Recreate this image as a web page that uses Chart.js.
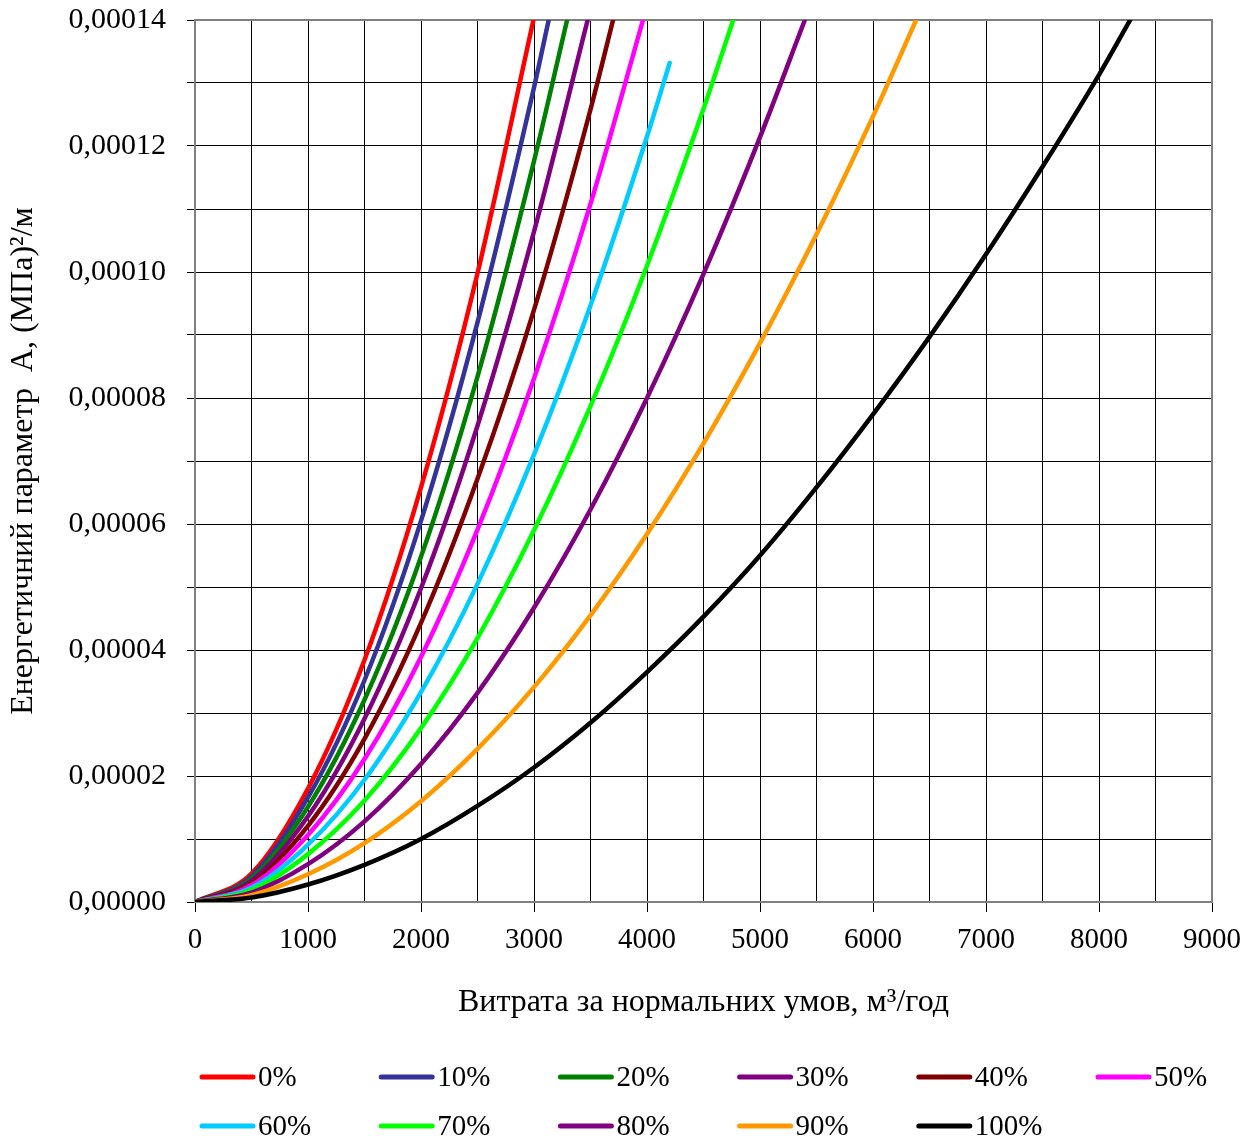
<!DOCTYPE html>
<html lang="uk">
<head>
<meta charset="utf-8">
<title>Енергетичний параметр A</title>
<script src="https://cdn.jsdelivr.net/npm/chart.js@4.4.1/dist/chart.umd.min.js"></script>
<style>
  html, body { margin: 0; padding: 0; background: #fff; }
  #wrap { width: 1258px; height: 1139px; }
</style>
</head>
<body>
<div id="wrap"><canvas id="chart" width="1258" height="1139"></canvas></div>
<script>
// Flow under normal conditions, m3/h (common grid for every curve)
const FLOW = [0, 500, 1000, 1500, 2000, 2500, 3000, 3500, 4000, 4500, 5000, 5500, 6000, 6500, 7000, 7500, 8000];

const SERIES_LABELS = ['0%', '10%', '20%', '30%', '40%', '50%', '60%', '70%', '80%', '90%', '100%'];
const SERIES_COLORS = ['#ff0000', '#333399', '#008000', '#800080', '#800000', '#ff00ff',
                       '#00ccff', '#00ff00', '#800080', '#ff9900', '#000000'];

// Energy parameter A, (MPa)^2/m, on the FLOW grid
const A_0   = [0, 4.5e-6, 1.80e-5, 3.84e-5, 6.58e-5, 9.98e-5];
const A_10  = [0, 4.1e-6, 1.66e-5, 3.52e-5, 6.05e-5, 9.20e-5, 1.293e-4];
const A_20  = [0, 3.75e-6, 1.51e-5, 3.21e-5, 5.48e-5, 8.34e-5, 1.176e-4];
const A_30  = [0, 3.4e-6, 1.36e-5, 2.91e-5, 4.98e-5, 7.56e-5, 1.064e-4];
const A_40  = [0, 3.0e-6, 1.21e-5, 2.59e-5, 4.43e-5, 6.72e-5, 9.40e-5, 1.258e-4];
const A_50  = [0, 2.65e-6, 1.065e-5, 2.27e-5, 3.89e-5, 5.91e-5, 8.31e-5, 1.108e-4];
const A_60  = [0, 2.25e-6, 9.1e-6, 1.94e-5, 3.33e-5, 5.05e-5, 7.10e-5, 9.47e-5, 1.215e-4];
const A_70  = [0, 1.9e-6, 7.6e-6, 1.61e-5, 2.76e-5, 4.19e-5, 5.90e-5, 7.87e-5, 1.01e-4, 1.259e-4];
const A_80  = [0, 1.5e-6, 6.0e-6, 1.28e-5, 2.19e-5, 3.32e-5, 4.67e-5, 6.23e-5, 8.0e-5, 9.97e-5, 1.214e-4];
const A_90  = [0, 1.1e-6, 4.4e-6, 9.35e-6, 1.60e-5, 2.43e-5, 3.41e-5, 4.55e-5, 5.84e-5, 7.28e-5, 8.87e-5, 1.06e-4, 1.247e-4];
const A_100 = [0, 0.72e-6, 2.78e-6, 5.9e-6, 1.0e-5, 1.525e-5, 2.135e-5, 2.845e-5, 3.65e-5, 4.53e-5, 5.50e-5, 6.58e-5, 7.74e-5, 8.97e-5, 1.028e-4, 1.167e-4, 1.313e-4];

// Last point of each curve (where it leaves the plot, or where the 60% data stops)
const END_FLOW = [2995, 3130, 3293, 3475, 3700, 3965, 4201, 4763, 5397, 6382, 8276];
const END_A    = [1.4e-4, 1.4e-4, 1.4e-4, 1.4e-4, 1.4e-4, 1.4e-4, 1.332e-4, 1.4e-4, 1.4e-4, 1.4e-4, 1.4e-4];

// Axis labels
const X_LABELS = [0, 1000, 2000, 3000, 4000, 5000, 6000, 7000, 8000, 9000];
const Y_LABELS = [0, 0.00002, 0.00004, 0.00006, 0.00008, 0.00010, 0.00012, 0.00014];

const A_SERIES = [A_0, A_10, A_20, A_30, A_40, A_50, A_60, A_70, A_80, A_90, A_100];

const FONT = "'Liberation Serif', 'Times New Roman', serif";
Chart.defaults.font.family = FONT;
Chart.defaults.color = '#000';

const datasets = A_SERIES.map((vals, i) => ({
  label: SERIES_LABELS[i],
  data: vals.map((a, k) => ({ x: FLOW[k], y: a }))
            .concat([{ x: END_FLOW[i], y: END_A[i] }]),
  borderColor: SERIES_COLORS[i],
  backgroundColor: SERIES_COLORS[i],
  borderWidth: 4.5,
  borderCapStyle: 'round',
  borderJoinStyle: 'round',
  pointRadius: 0,
  fill: false,
  cubicInterpolationMode: 'monotone',
  // later series are painted over earlier ones
  order: A_SERIES.length - i
}));

// Grey frame on the top and right edges of the plot
const framePlugin = {
  id: 'frame',
  beforeDatasetsDraw(chart) {
    const { ctx, chartArea: a } = chart;
    ctx.save();
    ctx.strokeStyle = '#808080';
    ctx.lineWidth = 2;
    ctx.beginPath();
    ctx.moveTo(a.left, a.top);
    ctx.lineTo(a.right, a.top);
    ctx.lineTo(a.right, a.bottom);
    ctx.stroke();
    ctx.restore();
  }
};

// Legend laid out as a fixed grid of six columns under the axis title
const legendGridPlugin = {
  id: 'legendGrid',
  afterDraw(chart) {
    const { ctx } = chart;
    ctx.save();
    ctx.font = '29px ' + FONT;
    ctx.textBaseline = 'middle';
    ctx.textAlign = 'left';
    chart.data.datasets.forEach((ds, i) => {
      const col = i % 6;
      const row = Math.floor(i / 6);
      const x = 200 + col * 179.2;
      const y = 1077 + row * 49;
      ctx.strokeStyle = ds.borderColor;
      ctx.lineWidth = 5;
      ctx.lineCap = 'round';
      ctx.beginPath();
      ctx.moveTo(x + 2, y);
      ctx.lineTo(x + 53, y);
      ctx.stroke();
      ctx.fillStyle = '#000';
      ctx.fillText(ds.label, x + 58, y + 1);
    });
    ctx.restore();
  }
};

new Chart(document.getElementById('chart'), {
  type: 'line',
  data: { datasets },
  plugins: [framePlugin, legendGridPlugin],
  options: {
    responsive: false,
    animation: false,
    devicePixelRatio: 1,
    layout: { padding: { top: 20, right: 46, bottom: 117, left: 0 } },
    plugins: {
      legend: { display: false },
      tooltip: { enabled: false }
    },
    scales: {
      x: {
        type: 'linear',
        min: 0,
        max: 9000,
        afterFit(scale) { scale.height = 120; },
        border: { color: '#808080', width: 2 },
        grid: {
          color: '#000',
          lineWidth: 1,
          tickLength: 10,
          tickColor: (c) => (c.tick && c.tick.value % 1000 === 0) ? '#000' : 'rgba(0,0,0,0)'
        },
        ticks: {
          stepSize: 500,
          autoSkip: false,
          maxRotation: 0,
          padding: 11,
          font: { size: 29 },
          callback: (v) => X_LABELS.includes(v) ? String(v) : ''
        },
        title: {
          display: true,
          text: 'Витрата за нормальних умов, м³/год',
          font: { size: 32 },
          padding: { top: 0, bottom: 0 }
        }
      },
      y: {
        type: 'linear',
        min: 0,
        max: 0.00014,
        afterFit(scale) {
          scale.width = 195;
          // keep the plot top fixed; the end labels fit in the outer padding
          scale.paddingTop = 0;
          scale.paddingBottom = 0;
        },
        border: { color: '#808080', width: 2 },
        grid: { color: '#000', lineWidth: 1, tickLength: 8, tickColor: '#000' },
        ticks: {
          stepSize: 0.00001,
          autoSkip: false,
          padding: 21,
          font: { size: 30 },
          callback: (v) => Y_LABELS.some((t) => Math.abs(t - v) < 1e-9)
            ? v.toFixed(5).replace('.', ',') : ''
        },
        title: {
          display: true,
          text: 'Енергетичний параметр  А, (МПа)²/м',
          font: { size: 32 },
          padding: { top: 4, bottom: 0 }
        }
      }
    }
  }
});
</script>
</body>
</html>
